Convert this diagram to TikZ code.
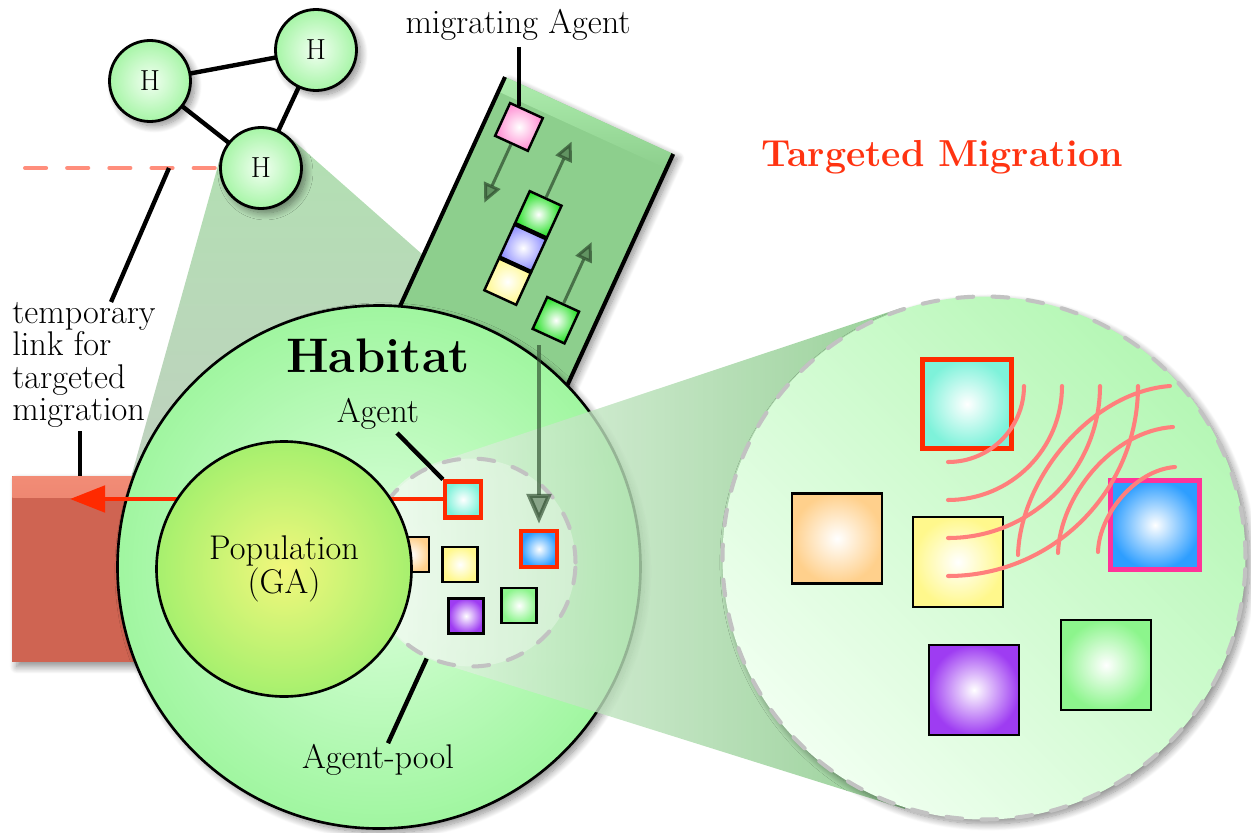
\documentclass[tikz,border=0pt]{standalone}
\usetikzlibrary{arrows.meta,shadows.blur,calc}
\definecolor{hin}{HTML}{F2FFF2}
\definecolor{hout}{HTML}{A6F5A6}
\definecolor{habin}{HTML}{DDFFDD}
\definecolor{habout}{HTML}{A0F6A0}
\definecolor{popin}{HTML}{F2F77C}
\definecolor{popout}{HTML}{A6F06E}
\definecolor{salmon}{HTML}{FF8E7C}
\definecolor{arcc}{HTML}{FF7F7C}
\definecolor{redl}{HTML}{FF2A00}
\definecolor{pinkb}{HTML}{FF3399}
\definecolor{bandc}{HTML}{8DCF8D}
\definecolor{bandtop}{HTML}{AEEDAE}
\definecolor{darkg}{HTML}{2C4A2C}
\definecolor{poolg}{HTML}{C2C2C2}
\definecolor{remc}{HTML}{CF6452}
\definecolor{remtop}{HTML}{F28C76}
\definecolor{conetop}{HTML}{B2E0B2}
\definecolor{conebot}{HTML}{C0D0C0}
\definecolor{zl}{HTML}{F0FFF0}
\definecolor{zr}{HTML}{B5F7B5}
\definecolor{pcl}{HTML}{F2FCF2}
\definecolor{pcr}{HTML}{7EC47E}
\definecolor{cyanA}{HTML}{7EF2DA}
\definecolor{blueA}{HTML}{2E9EFF}
\definecolor{orangeA}{HTML}{FFD08C}
\definecolor{yellowA}{HTML}{FFF88C}
\definecolor{purpleA}{HTML}{9E3CF2}
\definecolor{greenA}{HTML}{8CF58C}
\definecolor{pinkA}{HTML}{FF8CD2}
\definecolor{lavA}{HTML}{8C8CFF}
\definecolor{greenB}{HTML}{22E022}
\definecolor{titlered}{HTML}{FF3311}
\begin{document}
\begin{tikzpicture}[x=0.02cm,y=-0.02cm,
  font=\fontsize{19.5}{18.4}\selectfont,
  shd/.style={blur shadow={shadow xshift=2.5pt,shadow yshift=-2.5pt,shadow blur radius=4pt,shadow blur steps=12,shadow opacity=45}},
  hnode/.style={circle,draw=black,line width=1.6pt,inner color=hin,outer color=hout,minimum size=81*0.02cm,inner sep=0pt,shd,font=\fontsize{16.5}{18}\selectfont},
  thick line/.style={line width=2.5pt},
  sq/.style={draw=black,line width=1.4pt,inner sep=0pt,minimum size=#1*0.02cm},
  redsq/.style={draw=redl,line width=2.4pt,inner sep=0pt,minimum size=#1*0.02cm},
  bandarrow/.style={line width=1.7pt,draw=darkg,draw opacity=0.7,fill opacity=0.45,-{Triangle[length=11pt,width=10pt,fill=darkg]}},
  dashgray/.style={draw=poolg,line width=2.3pt,line cap=round,dash pattern=on 9pt off 11pt},
  arcline/.style={draw=arcc,line width=2.3pt,line cap=round},
]
\useasboundingbox (0,0) rectangle (1251,832);

% positions of the H network
\coordinate (h1) at (150,81);
\coordinate (h2) at (316,50);
\coordinate (h3) at (261,168);

% temporary link (dashed)
\coordinate (dstart) at (25,168);
\draw[salmon,line width=2.3pt,line cap=round,dash pattern=on 12pt off 12pt] (dstart) -- (h3);

% zoom cone from H3 to habitat
\shade[top color=conetop,bottom color=conebot] (220.5,156.7) -- (288.8,136.5) -- (552.9,369.7) -- (125.7,496.3) -- cycle;

% remote habitat (red)
\node[anchor=north west,minimum width=190*0.02cm,minimum height=186*0.02cm,fill=remc,inner sep=0pt,shd,
  path picture={\shade[top color=remtop,bottom color=remc] (path picture bounding box.north west) rectangle ([yshift=-12pt]path picture bounding box.north east);}] (remote) at (12,476) {};

\draw[thick line] (h1) -- (h2) (h1) -- (h3) (h2) -- (h3);
\node[hnode] (H1) at (h1) {H};
\node[hnode] (H2) at (h2) {H};
\node[hnode] (H3) at (h3) {H};

% migration band
\begin{scope}[shift={(505,77)},rotate=-24.6,transform shape]
  \fill[bandc,shd] (0,0) rectangle (185,330);
  \shade[top color=bandtop,bottom color=bandc] (0,0) rectangle (185,16);
  \draw[line width=2.3pt] (0,0) -- (0,330) (185,0) -- (185,330);
  \node[sq=36,inner color=white,outer color=pinkA] (pink) at (33.5,39.6) {};
  \node[sq=35,inner color=white,outer color=greenB] (g1) at (87.5,111) {};
  \node[sq=35,inner color=white,outer color=lavA] (lav) at (87.5,148) {};
  \node[sq=35,inner color=white,outer color=yellowA] (yel) at (87.5,185) {};
  \node[sq=35,inner color=white,outer color=greenB] (g2) at (147.5,200) {};
  \coordinate (a1e) at (33.5,123);
  \coordinate (a2e) at (87.5,31);
  \coordinate (a3e) at (147.5,114);
  \draw[bandarrow] (pink.south) -- (a1e);
  \draw[bandarrow] (g1.north) -- (a2e);
  \draw[bandarrow] (g2.north) -- (a3e);
\end{scope}

\node (mlab) at (518,25) {migrating Agent};
\coordinate (pinktop) at ($(pink.north west)!0.27!(pink.north east)$);
\draw[thick line] (mlab.south -| pinktop) -- (pinktop);

% temporary link label
\node[anchor=north west,align=left,inner sep=0pt] (tlab) at (12,302) {temporary\\link for\\targeted\\migration};
\coordinate (tl1) at (169,168);
\coordinate (tl2) at (111,302);
\draw[thick line] (tl1) -- (tl2);
\coordinate (tl3) at (80,431);
\draw[thick line] (tl3) -- (tl3 |- remote.north);

% habitat
\node[circle,draw=black,line width=1.5pt,inner color=habin,outer color=habout,minimum size=523*0.02cm,inner sep=0pt,shd] (hab) at (379,567) {};

% cone to zoom
\shade[left color=pcl,right color=pcr,opacity=0.8] (440,663) -- (905,809) -- (901,308) -- (438,462)
   arc[start angle=251.6,end angle=107.4,radius=105.5] -- cycle;

\node[circle,minimum size=208*0.02cm,inner sep=0pt,dashgray,fill=white,fill opacity=0.3] (pool) at (471.5,562.5) {};

\coordinate (agentW) at (443,499);
\coordinate (rtip) at (70,499);
\draw[redl,line width=2.4pt,-{Triangle[length=20pt,width=15pt]}] (agentW) -- (rtip);

\node[sq=35,inner color=white,outer color=orangeA] (or1) at (411.5,554.5) {};
\node[circle,draw=black,line width=1.5pt,inner color=popin,outer color=popout,minimum size=255*0.02cm,inner sep=0pt,align=center,font=\fontsize{19.5}{17}\selectfont] (pop) at (284,569) {Population\\(GA)};

\node[redsq=36,inner color=white,outer color=cyanA] (agent) at (463,499.5) {};
\node[redsq=36,inner color=white,outer color=blueA] (blueS) at (539,549) {};
\node[sq=35,inner color=white,outer color=yellowA] (yS) at (460,564.5) {};
\node[sq=35,inner color=white,outer color=purpleA] (pS) at (466,616) {};
\node[sq=35,inner color=white,outer color=greenA] (gS) at (519,605.5) {};

\coordinate (vstart) at (539,345);
\draw[line width=2.3pt,draw=darkg,draw opacity=0.65,fill opacity=0.45,-{Triangle[length=17pt,width=14pt,fill=darkg]}] (vstart) -- ([yshift=3pt]blueS.north);

\node (agentlab) at (378,414) {Agent};
\coordinate (al1) at (397,433);
\draw[thick line] (al1) -- (agent.north west);
\node (poollab) at (378,760) {Agent-pool};
\draw[thick line] (pool.245.7) -- ($(poollab.north)+(10,5)$);
\node[font=\fontsize{27.6}{30}\selectfont\bfseries] (hablab) at (378,356) {Habitat};

% zoom circle
\node[circle,minimum size=523*0.02cm,inner sep=0pt,dashgray,top color=zr,bottom color=zl,shading angle=-45,shd] (zoom) at (984,558) {};
\node[draw=redl,line width=2.8pt,inner sep=0pt,minimum size=89*0.02cm,inner color=white,outer color=cyanA] (zc) at (967,404) {};
\node[sq=90,inner color=white,outer color=orangeA] (zo) at (837,538.5) {};
\node[sq=90,inner color=white,outer color=yellowA] (zy) at (958,562) {};
\node[draw=pinkb,line width=2.8pt,inner sep=0pt,minimum size=89*0.02cm,inner color=white,outer color=blueA] (zb) at (1155,525) {};
\node[sq=90,inner color=white,outer color=purpleA] (zp) at (974,690) {};
\node[sq=90,inner color=white,outer color=greenA] (zg) at (1106,665) {};

\foreach \r in {76,114,152,190} \draw[arcline] (948,{386+\r}) arc[start angle=90,end angle=0,radius=\r];
\draw[arcline] (1018,555) .. controls (1020,480) and (1090,392) .. (1170,386);
\draw[arcline] (1058,553) .. controls (1060,496) and (1112,431) .. (1173,427);
\draw[arcline] (1098,552) .. controls (1099,515) and (1135,470) .. (1175,467);

\node[font=\fontsize{21.4}{24}\selectfont\bfseries,text=titlered] (tm) at (942,157) {Targeted Migration};
\end{tikzpicture}
\end{document}
